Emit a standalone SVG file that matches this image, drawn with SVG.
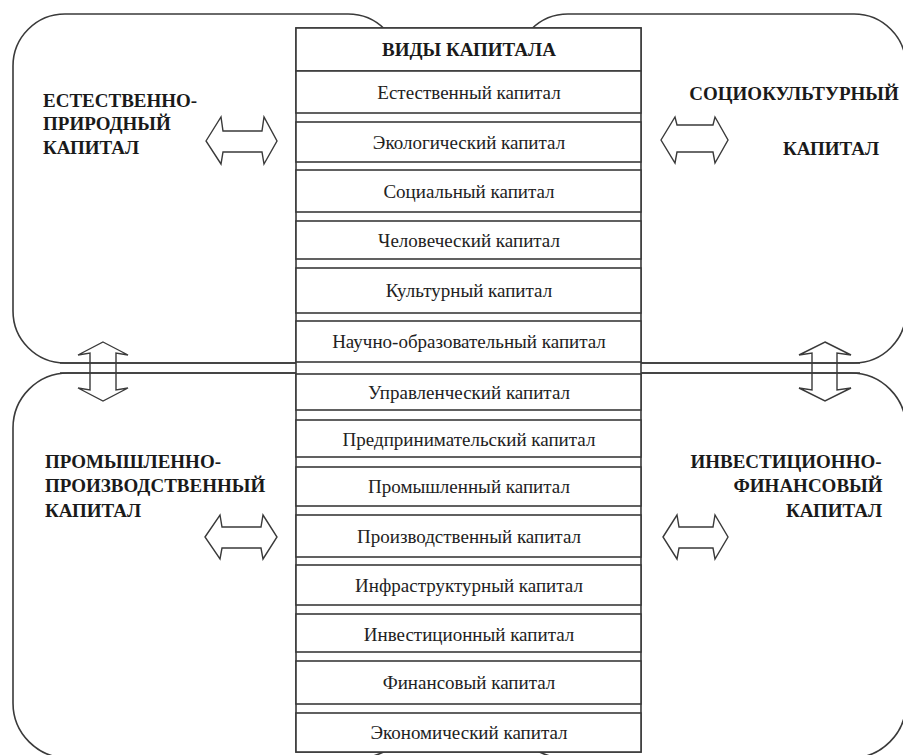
<svg xmlns="http://www.w3.org/2000/svg" width="903" height="755" viewBox="0 0 903 755">
<style>
.reg{fill:#fff;stroke:#3a3a3a;stroke-width:1.6}
.box{fill:#fff;stroke:#3a3a3a;stroke-width:1.6}
.arr{fill:#fff;stroke:#3a3a3a;stroke-width:1.4;stroke-linejoin:miter}
.varr{fill:none;stroke:#3a3a3a;stroke-width:1.4}
.t{font-size:19px;fill:#222;text-anchor:middle}
.h{font-size:19px;font-weight:bold;fill:#1a1a1a}
</style>
<rect width="903" height="755" fill="#fff"/>
<g id="regions">
<rect id="reg-tl" class="reg" x="13" y="14" width="387" height="349" rx="52" ry="52"/>
<rect id="reg-tr" class="reg" x="516" y="14" width="390" height="349" rx="52" ry="52"/>
<rect id="reg-bl" class="reg" x="13" y="373" width="400" height="385" rx="55" ry="55"/>
<rect id="reg-br" class="reg" x="510" y="373" width="396" height="385" rx="55" ry="55"/>
</g>
<g id="column">
<rect class="box" x="296" y="28" width="345" height="724"/>
<g id="n-header"><rect class="box" x="296" y="28" width="345" height="43"/><text class="h" style="font-family:'Liberation Serif',serif" x="469" y="56" text-anchor="middle">ВИДЫ КАПИТАЛА</text></g>
<g id="n1"><rect class="box" x="296" y="71" width="345" height="42"/><text class="t" style="font-family:'Liberation Serif',serif" x="469" y="99">Естественный капитал</text></g>
<g id="n2"><rect class="box" x="296" y="122" width="345" height="40"/><text class="t" style="font-family:'Liberation Serif',serif" x="469" y="149">Экологический капитал</text></g>
<g id="n3"><rect class="box" x="296" y="170" width="345" height="42"/><text class="t" style="font-family:'Liberation Serif',serif" x="469" y="198">Социальный капитал</text></g>
<g id="n4"><rect class="box" x="296" y="221" width="345" height="38"/><text class="t" style="font-family:'Liberation Serif',serif" x="469" y="247">Человеческий капитал</text></g>
<g id="n5"><rect class="box" x="296" y="268" width="345" height="45"/><text class="t" style="font-family:'Liberation Serif',serif" x="469" y="297">Культурный капитал</text></g>
<g id="n6"><rect class="box" x="296" y="321" width="345" height="41"/><text class="t" style="font-family:'Liberation Serif',serif" x="469" y="348">Научно-образовательный капитал</text></g>
<g id="n7"><rect class="box" x="296" y="374" width="345" height="36"/><text class="t" style="font-family:'Liberation Serif',serif" x="469" y="399">Управленческий капитал</text></g>
<g id="n8"><rect class="box" x="296" y="420" width="345" height="37"/><text class="t" style="font-family:'Liberation Serif',serif" x="469" y="446">Предпринимательский капитал</text></g>
<g id="n9"><rect class="box" x="296" y="467" width="345" height="39"/><text class="t" style="font-family:'Liberation Serif',serif" x="469" y="493">Промышленный капитал</text></g>
<g id="n10"><rect class="box" x="296" y="515" width="345" height="42"/><text class="t" style="font-family:'Liberation Serif',serif" x="469" y="543">Производственный капитал</text></g>
<g id="n11"><rect class="box" x="296" y="565" width="345" height="40"/><text class="t" style="font-family:'Liberation Serif',serif" x="469" y="592">Инфраструктурный капитал</text></g>
<g id="n12"><rect class="box" x="296" y="614" width="345" height="38"/><text class="t" style="font-family:'Liberation Serif',serif" x="469" y="641">Инвестиционный капитал</text></g>
<g id="n13"><rect class="box" x="296" y="661" width="345" height="43"/><text class="t" style="font-family:'Liberation Serif',serif" x="469" y="689">Финансовый капитал</text></g>
<g id="n14"><rect class="box" x="296" y="713" width="345" height="39"/><text class="t" style="font-family:'Liberation Serif',serif" x="469" y="739">Экономический капитал</text></g>
</g>
<g id="links">
<line x1="60" y1="363" x2="296" y2="363" stroke="#3a3a3a" stroke-width="1.6"/>
<line x1="60" y1="373" x2="296" y2="373" stroke="#3a3a3a" stroke-width="1.6"/>
<line x1="641" y1="363" x2="860" y2="363" stroke="#3a3a3a" stroke-width="1.6"/>
<line x1="641" y1="373" x2="860" y2="373" stroke="#3a3a3a" stroke-width="1.6"/>
<polygon class="arr" points="206,141 221,117 223,131 262,131 264,117 277,141 264,164 262,152 223,152 221,164"/>
<polygon class="arr" points="661,140 675,117 677,125 713,125 715,117 728,140 715,163 713,152 677,152 675,163"/>
<polygon class="arr" points="205,537 220,515 222,527 261,527 263,515 277,537 263,559 261,548 222,548 220,559"/>
<polygon class="arr" points="663,537 677,515 679,527 713,527 715,515 728,537 715,559 713,548 679,548 677,559"/>
<polygon class="varr" points="103,342 128,355 116,353 116,390 128,388 103,401 78,388 90,390 90,353 78,355"/>
<polygon class="varr" points="825,342 851,355 837,353 837,390 851,388 825,401 799,388 812,390 812,353 799,355"/>
</g>
<g id="labels">
<g id="lab-tl"><text class="h" style="font-family:'Liberation Serif',serif" x="43" y="107">ЕСТЕСТВЕННО-</text><text class="h" style="font-family:'Liberation Serif',serif" x="43" y="130">ПРИРОДНЫЙ</text><text class="h" style="font-family:'Liberation Serif',serif" x="43" y="154">КАПИТАЛ</text></g>
<g id="lab-tr"><text class="h" style="font-family:'Liberation Serif',serif" x="794" y="100" text-anchor="middle">СОЦИОКУЛЬТУРНЫЙ</text><text class="h" style="font-family:'Liberation Serif',serif" x="831" y="155" text-anchor="middle">КАПИТАЛ</text></g>
<g id="lab-bl"><text class="h" style="font-family:'Liberation Serif',serif" x="45" y="468">ПРОМЫШЛЕННО-</text><text class="h" style="font-family:'Liberation Serif',serif" x="45" y="492">ПРОИЗВОДСТВЕННЫЙ</text><text class="h" style="font-family:'Liberation Serif',serif" x="45" y="517">КАПИТАЛ</text></g>
<g id="lab-br"><text class="h" style="font-family:'Liberation Serif',serif" x="786" y="468" text-anchor="middle">ИНВЕСТИЦИОННО-</text><text class="h" style="font-family:'Liberation Serif',serif" x="808" y="492" text-anchor="middle">ФИНАНСОВЫЙ</text><text class="h" style="font-family:'Liberation Serif',serif" x="834" y="517" text-anchor="middle">КАПИТАЛ</text></g>
</g>
</svg>
